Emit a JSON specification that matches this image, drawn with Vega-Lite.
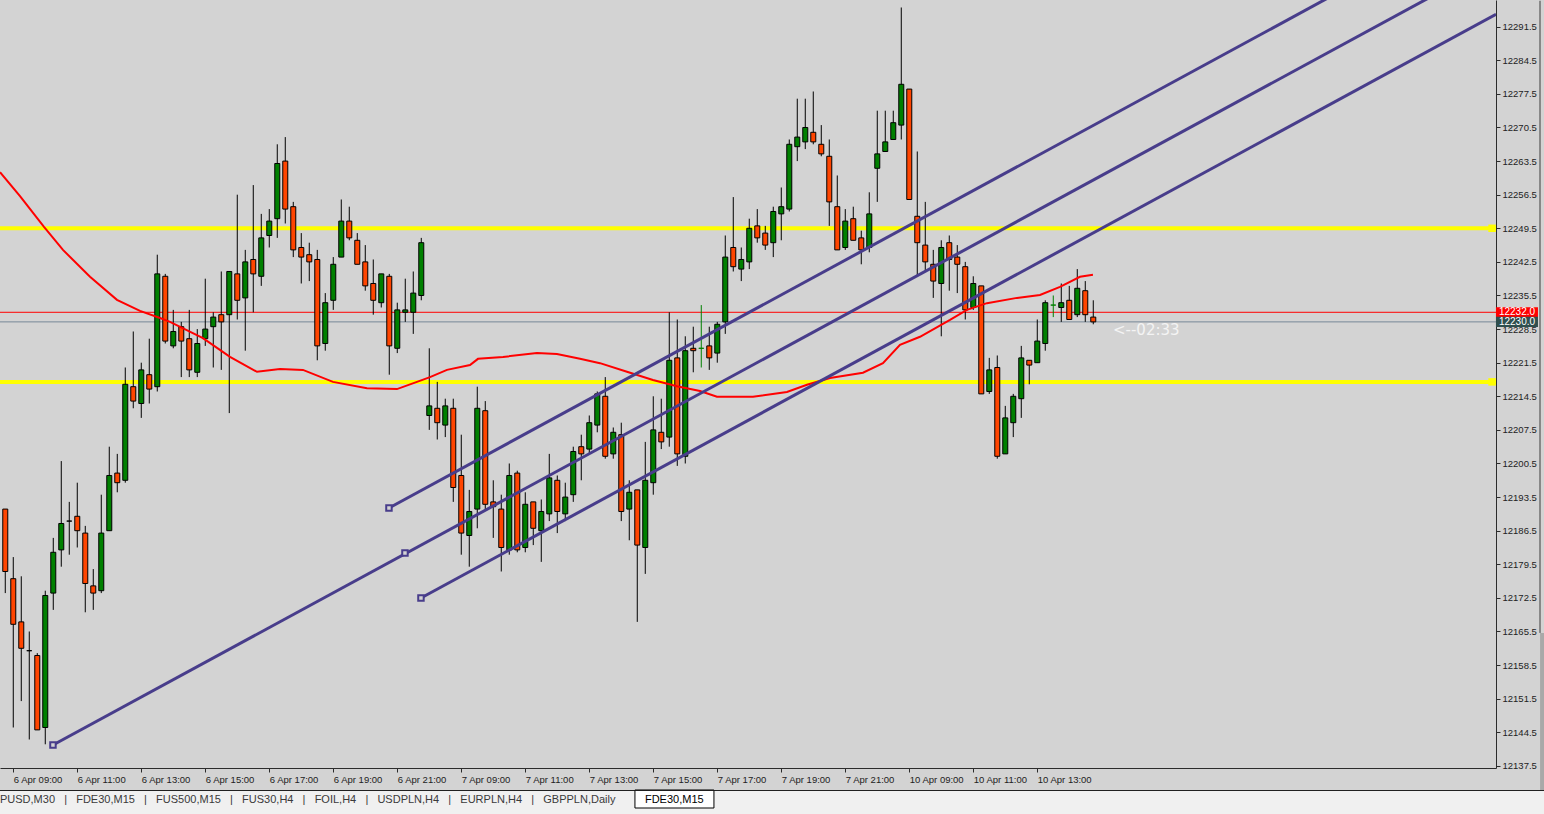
{
"$schema": "https://vega.github.io/schema/vega-lite/v6.json",
"background": "#d3d3d3",
"padding": 0,
"spacing": 22,
"bounds": "flush",
"config": {
  "view": {"stroke": null},
  "axis": {"grid": false, "labelOverlap": false, "labelFlush": false, "domainColor": "#2b2b2b", "tickColor": "#2b2b2b", "labelColor": "#222222", "labelFont": "Liberation Sans", "labelFontSize": 9.5, "tickSize": 4, "labelPadding": 2, "domainWidth": 1, "tickWidth": 1},
  "text": {"font": "Liberation Sans"}
},
"datasets": {
"candles": [
{"k":0,"o":12191.0,"h":12191.0,"l":12173.5,"c":12178.0,"d":"bear"},
{"k":1,"o":12176.5,"h":12181.0,"l":12145.5,"c":12167.0,"d":"bear"},
{"k":2,"o":12167.5,"h":12177.0,"l":12151.0,"c":12162.0,"d":"bear"},
{"k":3,"o":12161.5,"h":12165.5,"l":12143.0,"c":12161.5,"d":"doji"},
{"k":4,"o":12160.5,"h":12161.0,"l":12145.0,"c":12145.0,"d":"bear"},
{"k":5,"o":12145.5,"h":12174.0,"l":12142.0,"c":12173.0,"d":"bull"},
{"k":6,"o":12173.5,"h":12185.0,"l":12170.0,"c":12182.0,"d":"bull"},
{"k":7,"o":12182.5,"h":12201.0,"l":12179.0,"c":12188.0,"d":"bull"},
{"k":8,"o":12188.5,"h":12192.5,"l":12181.5,"c":12188.5,"d":"doji"},
{"k":9,"o":12189.5,"h":12196.5,"l":12183.0,"c":12186.5,"d":"bear"},
{"k":10,"o":12186.0,"h":12187.5,"l":12169.5,"c":12175.5,"d":"bear"},
{"k":11,"o":12175.0,"h":12178.5,"l":12170.0,"c":12173.5,"d":"bear"},
{"k":12,"o":12174.0,"h":12194.0,"l":12173.5,"c":12186.0,"d":"bull"},
{"k":13,"o":12186.5,"h":12204.0,"l":12186.5,"c":12198.0,"d":"bull"},
{"k":14,"o":12198.5,"h":12202.5,"l":12194.5,"c":12196.5,"d":"bear"},
{"k":15,"o":12197.0,"h":12220.5,"l":12196.5,"c":12217.0,"d":"bull"},
{"k":16,"o":12216.5,"h":12228.0,"l":12212.0,"c":12213.5,"d":"bear"},
{"k":17,"o":12213.0,"h":12221.5,"l":12210.0,"c":12220.0,"d":"bull"},
{"k":18,"o":12219.0,"h":12226.5,"l":12213.0,"c":12216.0,"d":"bear"},
{"k":19,"o":12216.5,"h":12244.0,"l":12215.5,"c":12240.0,"d":"bull"},
{"k":20,"o":12239.5,"h":12240.0,"l":12225.5,"c":12226.0,"d":"bear"},
{"k":21,"o":12225.0,"h":12232.5,"l":12224.5,"c":12228.0,"d":"bull"},
{"k":22,"o":12229.0,"h":12230.0,"l":12218.5,"c":12226.0,"d":"bear"},
{"k":23,"o":12226.5,"h":12232.5,"l":12218.5,"c":12220.0,"d":"bear"},
{"k":24,"o":12219.5,"h":12228.5,"l":12218.5,"c":12225.5,"d":"bull"},
{"k":25,"o":12226.5,"h":12239.0,"l":12225.0,"c":12228.5,"d":"bull"},
{"k":26,"o":12229.0,"h":12232.0,"l":12220.5,"c":12231.0,"d":"bull"},
{"k":27,"o":12231.5,"h":12240.5,"l":12220.0,"c":12230.0,"d":"bear"},
{"k":28,"o":12231.5,"h":12240.5,"l":12211.0,"c":12240.5,"d":"bull"},
{"k":29,"o":12240.0,"h":12256.5,"l":12230.5,"c":12234.5,"d":"bear"},
{"k":30,"o":12235.0,"h":12245.0,"l":12224.0,"c":12242.5,"d":"bull"},
{"k":31,"o":12243.0,"h":12258.5,"l":12232.0,"c":12240.0,"d":"bear"},
{"k":32,"o":12239.5,"h":12252.5,"l":12237.5,"c":12247.5,"d":"bull"},
{"k":33,"o":12248.0,"h":12253.5,"l":12245.5,"c":12251.0,"d":"bull"},
{"k":34,"o":12251.5,"h":12267.0,"l":12247.5,"c":12263.0,"d":"bull"},
{"k":35,"o":12263.5,"h":12268.5,"l":12250.5,"c":12253.5,"d":"bear"},
{"k":36,"o":12254.0,"h":12255.0,"l":12243.5,"c":12245.0,"d":"bear"},
{"k":37,"o":12245.5,"h":12248.5,"l":12238.0,"c":12243.5,"d":"bear"},
{"k":38,"o":12244.0,"h":12246.5,"l":12238.5,"c":12242.5,"d":"bear"},
{"k":39,"o":12243.0,"h":12245.0,"l":12222.0,"c":12225.0,"d":"bear"},
{"k":40,"o":12225.5,"h":12236.0,"l":12224.0,"c":12234.0,"d":"bull"},
{"k":41,"o":12234.5,"h":12243.5,"l":12232.5,"c":12242.0,"d":"bull"},
{"k":42,"o":12243.5,"h":12255.5,"l":12243.5,"c":12251.0,"d":"bull"},
{"k":43,"o":12251.0,"h":12254.0,"l":12247.0,"c":12247.5,"d":"bear"},
{"k":44,"o":12247.0,"h":12248.5,"l":12242.0,"c":12242.0,"d":"bear"},
{"k":45,"o":12242.5,"h":12246.0,"l":12236.5,"c":12237.5,"d":"bear"},
{"k":46,"o":12238.0,"h":12243.0,"l":12231.5,"c":12234.5,"d":"bear"},
{"k":47,"o":12234.0,"h":12240.0,"l":12233.0,"c":12240.0,"d":"bull"},
{"k":48,"o":12239.5,"h":12240.0,"l":12219.0,"c":12225.0,"d":"bear"},
{"k":49,"o":12224.5,"h":12234.0,"l":12223.5,"c":12232.5,"d":"bull"},
{"k":50,"o":12232.0,"h":12239.0,"l":12230.0,"c":12232.5,"d":"bull"},
{"k":51,"o":12232.0,"h":12240.5,"l":12227.5,"c":12236.0,"d":"bull"},
{"k":52,"o":12235.5,"h":12247.5,"l":12234.5,"c":12246.5,"d":"bull"},
{"k":53,"o":12210.5,"h":12224.5,"l":12207.5,"c":12212.5,"d":"bull"},
{"k":54,"o":12212.0,"h":12217.5,"l":12205.5,"c":12209.0,"d":"bear"},
{"k":55,"o":12208.5,"h":12214.0,"l":12206.0,"c":12212.5,"d":"bull"},
{"k":56,"o":12212.0,"h":12214.0,"l":12192.5,"c":12195.5,"d":"bear"},
{"k":57,"o":12198.0,"h":12206.5,"l":12181.5,"c":12186.0,"d":"bear"},
{"k":58,"o":12185.5,"h":12195.0,"l":12179.0,"c":12190.5,"d":"bull"},
{"k":59,"o":12191.0,"h":12216.5,"l":12187.0,"c":12212.0,"d":"bull"},
{"k":60,"o":12211.5,"h":12213.5,"l":12191.0,"c":12192.0,"d":"bear"},
{"k":61,"o":12192.5,"h":12197.0,"l":12185.0,"c":12191.5,"d":"bear"},
{"k":62,"o":12191.0,"h":12194.0,"l":12178.0,"c":12183.0,"d":"bear"},
{"k":63,"o":12182.5,"h":12200.5,"l":12181.5,"c":12198.0,"d":"bull"},
{"k":64,"o":12198.5,"h":12199.0,"l":12182.0,"c":12182.5,"d":"bear"},
{"k":65,"o":12183.0,"h":12194.5,"l":12182.0,"c":12192.0,"d":"bull"},
{"k":66,"o":12192.5,"h":12192.5,"l":12183.5,"c":12187.0,"d":"bear"},
{"k":67,"o":12186.5,"h":12193.0,"l":12180.0,"c":12190.5,"d":"bull"},
{"k":68,"o":12190.0,"h":12202.5,"l":12188.5,"c":12197.5,"d":"bull"},
{"k":69,"o":12197.0,"h":12198.0,"l":12186.0,"c":12190.5,"d":"bear"},
{"k":70,"o":12190.0,"h":12196.5,"l":12188.5,"c":12193.5,"d":"bull"},
{"k":71,"o":12194.0,"h":12204.0,"l":12192.5,"c":12203.0,"d":"bull"},
{"k":72,"o":12204.0,"h":12206.5,"l":12197.0,"c":12202.5,"d":"bear"},
{"k":73,"o":12203.5,"h":12210.5,"l":12202.5,"c":12209.0,"d":"bull"},
{"k":74,"o":12208.5,"h":12215.5,"l":12207.0,"c":12215.0,"d":"bull"},
{"k":75,"o":12214.5,"h":12218.5,"l":12201.5,"c":12202.0,"d":"bear"},
{"k":76,"o":12202.5,"h":12208.0,"l":12201.5,"c":12207.0,"d":"bull"},
{"k":77,"o":12206.5,"h":12209.0,"l":12188.5,"c":12190.5,"d":"bear"},
{"k":78,"o":12191.0,"h":12197.0,"l":12184.5,"c":12194.5,"d":"bull"},
{"k":79,"o":12195.0,"h":12195.0,"l":12167.5,"c":12183.5,"d":"bear"},
{"k":80,"o":12183.0,"h":12205.0,"l":12177.5,"c":12197.0,"d":"bull"},
{"k":81,"o":12196.5,"h":12214.5,"l":12194.0,"c":12207.5,"d":"bull"},
{"k":82,"o":12207.0,"h":12214.0,"l":12203.5,"c":12205.0,"d":"bear"},
{"k":83,"o":12206.0,"h":12232.0,"l":12204.0,"c":12222.0,"d":"bull"},
{"k":84,"o":12222.5,"h":12230.5,"l":12200.0,"c":12202.5,"d":"bear"},
{"k":85,"o":12202.0,"h":12227.0,"l":12200.5,"c":12224.0,"d":"bull"},
{"k":86,"o":12224.5,"h":12229.0,"l":12219.5,"c":12224.0,"d":"bear"},
{"k":87,"o":12224.5,"h":12233.5,"l":12220.5,"c":12224.5,"d":"dojiup"},
{"k":88,"o":12225.0,"h":12229.0,"l":12220.0,"c":12222.5,"d":"bear"},
{"k":89,"o":12223.5,"h":12230.0,"l":12221.5,"c":12229.5,"d":"bull"},
{"k":90,"o":12230.0,"h":12248.0,"l":12227.5,"c":12243.5,"d":"bull"},
{"k":91,"o":12245.5,"h":12256.0,"l":12240.5,"c":12241.5,"d":"bear"},
{"k":92,"o":12241.0,"h":12245.5,"l":12238.5,"c":12243.0,"d":"bull"},
{"k":93,"o":12242.5,"h":12251.5,"l":12241.0,"c":12249.5,"d":"bull"},
{"k":94,"o":12250.0,"h":12253.5,"l":12246.5,"c":12247.5,"d":"bear"},
{"k":95,"o":12248.5,"h":12250.0,"l":12245.0,"c":12246.0,"d":"bear"},
{"k":96,"o":12246.5,"h":12254.0,"l":12243.5,"c":12253.0,"d":"bull"},
{"k":97,"o":12252.5,"h":12258.0,"l":12247.0,"c":12254.0,"d":"bull"},
{"k":98,"o":12253.5,"h":12268.0,"l":12253.0,"c":12267.0,"d":"bull"},
{"k":99,"o":12266.5,"h":12276.5,"l":12263.5,"c":12268.5,"d":"bull"},
{"k":100,"o":12267.5,"h":12276.5,"l":12266.0,"c":12270.5,"d":"bull"},
{"k":101,"o":12269.5,"h":12278.0,"l":12267.0,"c":12267.5,"d":"bear"},
{"k":102,"o":12267.0,"h":12271.0,"l":12264.5,"c":12265.0,"d":"bear"},
{"k":103,"o":12264.5,"h":12268.0,"l":12250.0,"c":12255.0,"d":"bear"},
{"k":104,"o":12254.0,"h":12260.5,"l":12245.0,"c":12245.0,"d":"bear"},
{"k":105,"o":12245.5,"h":12253.5,"l":12245.0,"c":12251.0,"d":"bull"},
{"k":106,"o":12251.5,"h":12254.0,"l":12247.0,"c":12247.0,"d":"bear"},
{"k":107,"o":12247.5,"h":12249.0,"l":12242.0,"c":12245.0,"d":"bear"},
{"k":108,"o":12245.5,"h":12257.0,"l":12244.5,"c":12252.5,"d":"bull"},
{"k":109,"o":12262.0,"h":12274.0,"l":12255.0,"c":12265.0,"d":"bull"},
{"k":110,"o":12265.5,"h":12274.0,"l":12265.5,"c":12267.5,"d":"bull"},
{"k":111,"o":12268.0,"h":12274.0,"l":12268.0,"c":12271.5,"d":"bull"},
{"k":112,"o":12271.0,"h":12295.5,"l":12268.0,"c":12279.5,"d":"bull"},
{"k":113,"o":12278.5,"h":12278.5,"l":12255.5,"c":12255.5,"d":"bear"},
{"k":114,"o":12252.0,"h":12265.5,"l":12239.5,"c":12246.5,"d":"bear"},
{"k":115,"o":12246.0,"h":12255.0,"l":12240.5,"c":12242.5,"d":"bear"},
{"k":116,"o":12242.0,"h":12245.0,"l":12235.0,"c":12238.5,"d":"bear"},
{"k":117,"o":12238.0,"h":12247.0,"l":12227.0,"c":12245.5,"d":"bull"},
{"k":118,"o":12246.5,"h":12248.0,"l":12236.5,"c":12243.0,"d":"bear"},
{"k":119,"o":12243.5,"h":12246.0,"l":12236.0,"c":12242.0,"d":"bear"},
{"k":120,"o":12241.5,"h":12242.5,"l":12230.5,"c":12232.5,"d":"bear"},
{"k":121,"o":12233.0,"h":12239.5,"l":12232.5,"c":12238.0,"d":"bull"},
{"k":122,"o":12237.5,"h":12237.5,"l":12215.0,"c":12215.0,"d":"bear"},
{"k":123,"o":12215.5,"h":12222.5,"l":12215.0,"c":12220.0,"d":"bull"},
{"k":124,"o":12220.5,"h":12223.0,"l":12201.5,"c":12202.0,"d":"bear"},
{"k":125,"o":12202.5,"h":12212.5,"l":12202.5,"c":12210.0,"d":"bull"},
{"k":126,"o":12209.0,"h":12215.0,"l":12206.0,"c":12214.5,"d":"bull"},
{"k":127,"o":12214.0,"h":12225.0,"l":12210.0,"c":12222.5,"d":"bull"},
{"k":128,"o":12222.0,"h":12222.0,"l":12217.0,"c":12221.0,"d":"bear"},
{"k":129,"o":12221.5,"h":12230.5,"l":12221.5,"c":12226.0,"d":"bull"},
{"k":130,"o":12225.5,"h":12234.5,"l":12224.0,"c":12234.0,"d":"bull"},
{"k":131,"o":12233.5,"h":12235.5,"l":12231.0,"c":12233.5,"d":"dojiup"},
{"k":132,"o":12233.0,"h":12238.0,"l":12230.0,"c":12234.0,"d":"bull"},
{"k":133,"o":12234.5,"h":12237.5,"l":12230.5,"c":12230.5,"d":"bear"},
{"k":134,"o":12231.5,"h":12241.0,"l":12231.0,"c":12237.0,"d":"bull"},
{"k":135,"o":12236.5,"h":12238.5,"l":12230.0,"c":12231.5,"d":"bear"},
{"k":136,"o":12231.0,"h":12234.5,"l":12229.5,"c":12230.0,"d":"bear"}
],
"ma": [
{"k":-0.66,"v":12261.2},{"k":1.84,"v":12256.2},{"k":4.84,"v":12249.8},{"k":7.21,"v":12245.0},{"k":10.59,"v":12239.4},{"k":13.96,"v":12234.6},{"k":16.84,"v":12232.3},{"k":19.34,"v":12230.8},{"k":20.59,"v":12230.0},{"k":24.71,"v":12226.6},{"k":28.09,"v":12222.7},{"k":31.46,"v":12219.6},{"k":34.34,"v":12220.2},{"k":37.21,"v":12220.0},{"k":40.96,"v":12217.5},{"k":45.21,"v":12216.2},{"k":48.96,"v":12216.0},{"k":51.46,"v":12217.5},{"k":53.09,"v":12218.5},{"k":55.21,"v":12220.0},{"k":58.09,"v":12221.0},{"k":59.09,"v":12222.3},{"k":62.21,"v":12222.7},{"k":66.46,"v":12223.5},{"k":68.96,"v":12223.3},{"k":71.84,"v":12222.3},{"k":74.34,"v":12221.4},{"k":77.71,"v":12219.6},{"k":80.96,"v":12217.9},{"k":83.96,"v":12216.6},{"k":86.84,"v":12215.6},{"k":88.96,"v":12214.4},{"k":93.46,"v":12214.4},{"k":97.71,"v":12215.4},{"k":100.21,"v":12216.9},{"k":103.09,"v":12218.3},{"k":107.21,"v":12219.4},{"k":109.71,"v":12221.4},{"k":111.84,"v":12225.2},{"k":114.34,"v":12226.9},{"k":118.09,"v":12230.4},{"k":120.21,"v":12232.5},{"k":122.71,"v":12233.9},{"k":126.46,"v":12235.0},{"k":129.34,"v":12235.6},{"k":131.84,"v":12237.3},{"k":134.34,"v":12239.4},{"k":135.96,"v":12239.8}
],
"lines": [
{"id":"a","k":47.96,"v":12191.23},{"id":"a","k":186.34,"v":12316.5},
{"id":"b","k":5.96,"v":12141.85},{"id":"b","k":186.34,"v":12305.1},
{"id":"c","k":51.96,"v":12172.48},{"id":"c","k":186.34,"v":12294.1}
],
"handles": [
{"k":5.96,"v":12141.85},{"k":47.96,"v":12191.23},{"k":49.96,"v":12181.85},{"k":51.96,"v":12172.48}
],
"levels": [{"v":12249.5},{"v":12217.5}],
"quotes": [{"kind":"ask","v":12232.0},{"kind":"bid","v":12230.0}],
"edge": [{"part":"splitter","k":191.84,"top":12296.9,"bottom":12165.2},{"part":"scroll","k":192.1,"top":12165.2,"bottom":12132.5}],
"tabs": [
{"order":0,"label":"PUSD,M30\u00a0\u00a0\u00a0|\u00a0\u00a0\u00a0FDE30,M15\u00a0\u00a0\u00a0|\u00a0\u00a0\u00a0FUS500,M15\u00a0\u00a0\u00a0|\u00a0\u00a0\u00a0FUS30,H4\u00a0\u00a0\u00a0|\u00a0\u00a0\u00a0FOIL,H4\u00a0\u00a0\u00a0|\u00a0\u00a0\u00a0USDPLN,H4\u00a0\u00a0\u00a0|\u00a0\u00a0\u00a0EURPLN,H4\u00a0\u00a0\u00a0|\u00a0\u00a0\u00a0GBPPLN,Daily","active":false},
{"order":1,"label":"FDE30,M15","active":true}
]
},
"vconcat": [
{
"width": 1496,
"height": 768,
"layer": [
{
"data": {"name": "candles"},
"mark": {"type": "rule", "strokeWidth": 1, "opacity": 0},
"encoding": {
"x": {"field": "k", "type": "quantitative", "scale": {"domain": [-0.66, 186.34], "nice": false, "zero": false, "padding": 0},
"axis": {"title": null, "orient": "bottom", "tickCount": 60, "values": [1,9,17,25,33,41,49,57,65,73,81,89,97,105,113,121,129], "labelAlign": "left", "labelBaseline": "top", "labelFlush": false, "labelOverlap": false,
"labelExpr": "['6 Apr 09:00','6 Apr 11:00','6 Apr 13:00','6 Apr 15:00','6 Apr 17:00','6 Apr 19:00','6 Apr 21:00','7 Apr 09:00','7 Apr 11:00','7 Apr 13:00','7 Apr 15:00','7 Apr 17:00','7 Apr 19:00','7 Apr 21:00','10 Apr 09:00','10 Apr 11:00','10 Apr 13:00'][(datum.value-1)/8]"}},
"y": {"field": "l", "type": "quantitative", "scale": {"domain": [12137.06, 12297.06], "nice": false, "zero": false},
"axis": {"title": null, "orient": "right", "tickCount": 60, "values": [12137.5,12144.5,12151.5,12158.5,12165.5,12172.5,12179.5,12186.5,12193.5,12200.5,12207.5,12214.5,12221.5,12228.5,12235.5,12242.5,12249.5,12256.5,12263.5,12270.5,12277.5,12284.5,12291.5], "format": ".1f", "labelAlign": "left", "labelBaseline": "middle", "labelFlush": false, "labelOverlap": false}},
"y2": {"field": "h"}
}
},
{
"data": {"name": "levels"},
"mark": {"type": "rule", "color": "#ffff00", "strokeWidth": 4, "clip": true},
"encoding": {
"y": {"field": "v", "type": "quantitative", "scale": {"domain": [12137.06, 12297.06], "nice": false, "zero": false}}
}
},
{
"data": {"name": "levels"},
"mark": {"type": "point", "shape": "square", "filled": true, "color": "#ffff00", "size": 56, "opacity": 1},
"encoding": {
"x": {"datum": 185.85, "type": "quantitative", "scale": {"domain": [-0.66, 186.34], "nice": false, "zero": false, "padding": 0}},
"y": {"field": "v", "type": "quantitative", "scale": {"domain": [12137.06, 12297.06], "nice": false, "zero": false}}
}
},
{
"data": {"name": "quotes"},
"mark": {"type": "rule", "strokeWidth": 1, "clip": true},
"encoding": {
"y": {"field": "v", "type": "quantitative", "scale": {"domain": [12137.06, 12297.06], "nice": false, "zero": false}},
"stroke": {"condition": {"test": "datum.kind === 'ask'", "value": "#ff0000"}, "value": "#778899"}
}
},
{
"data": {"name": "candles"},
"mark": {"type": "rule", "strokeWidth": 1},
"encoding": {
"x": {"field": "k", "type": "quantitative", "scale": {"domain": [-0.66, 186.34], "nice": false, "zero": false, "padding": 0}},
"y": {"field": "l", "type": "quantitative", "scale": {"domain": [12137.06, 12297.06], "nice": false, "zero": false}},
"y2": {"field": "h"},
"stroke": {"condition": {"test": "datum.d === 'dojiup'", "value": "#008000"}, "value": "#000000"}
}
},
{
"data": {"name": "candles"},
"mark": {"type": "bar", "width": 5, "strokeWidth": 1},
"encoding": {
"x": {"field": "k", "type": "quantitative", "scale": {"domain": [-0.66, 186.34], "nice": false, "zero": false, "padding": 0}},
"y": {"field": "o", "type": "quantitative", "scale": {"domain": [12137.06, 12297.06], "nice": false, "zero": false}},
"y2": {"field": "c"},
"fill": {"field": "d", "type": "nominal", "scale": {"domain": ["bull","bear","doji","dojiup"], "range": ["#008000","#ff4500","#000000","#008000"]}, "legend": null},
"stroke": {"condition": {"test": "datum.d === 'dojiup'", "value": "#008000"}, "value": "#000000"}
}
},
{
"data": {"name": "ma"},
"mark": {"type": "line", "color": "#ff0000", "strokeWidth": 2, "clip": true},
"encoding": {
"x": {"field": "k", "type": "quantitative", "scale": {"domain": [-0.66, 186.34], "nice": false, "zero": false, "padding": 0}},
"y": {"field": "v", "type": "quantitative", "scale": {"domain": [12137.06, 12297.06], "nice": false, "zero": false}}
}
},
{
"data": {"name": "lines"},
"mark": {"type": "line", "color": "#483d8b", "strokeWidth": 3, "clip": true},
"encoding": {
"x": {"field": "k", "type": "quantitative", "scale": {"domain": [-0.66, 186.34], "nice": false, "zero": false, "padding": 0}},
"y": {"field": "v", "type": "quantitative", "scale": {"domain": [12137.06, 12297.06], "nice": false, "zero": false}},
"detail": {"field": "id", "type": "nominal"}
}
},
{
"data": {"name": "handles"},
"mark": {"type": "point", "shape": "square", "filled": true, "fill": "#d3d3d3", "stroke": "#483d8b", "strokeWidth": 2, "size": 30, "opacity": 1},
"encoding": {
"x": {"field": "k", "type": "quantitative", "scale": {"domain": [-0.66, 186.34], "nice": false, "zero": false, "padding": 0}},
"y": {"field": "v", "type": "quantitative", "scale": {"domain": [12137.06, 12297.06], "nice": false, "zero": false}}
}
},
{
"data": {"name": "quotes"},
"mark": {"type": "point", "shape": "M-1,-0.24H1V0.24H-1Z", "size": 1764, "filled": true, "opacity": 1, "strokeWidth": 0},
"encoding": {
"x": {"datum": 188.96, "type": "quantitative", "scale": {"domain": [-0.66, 186.34], "nice": false, "zero": false, "padding": 0}},
"y": {"field": "v", "type": "quantitative", "scale": {"domain": [12137.06, 12297.06], "nice": false, "zero": false}},
"fill": {"condition": {"test": "datum.kind === 'ask'", "value": "#ff0000"}, "value": "#2f4f4f"}
}
},
{
"data": {"name": "quotes"},
"mark": {"type": "text", "color": "#ffffff", "font": "Liberation Sans", "fontSize": 10, "align": "center", "baseline": "middle"},
"encoding": {
"x": {"datum": 188.96, "type": "quantitative", "scale": {"domain": [-0.66, 186.34], "nice": false, "zero": false, "padding": 0}},
"y": {"field": "v", "type": "quantitative", "scale": {"domain": [12137.06, 12297.06], "nice": false, "zero": false}},
"text": {"field": "v", "type": "quantitative", "format": ".1f"}
}
},
{
"data": {"name": "edge"},
"mark": {"type": "rule"},
"encoding": {
"x": {"field": "k", "type": "quantitative", "scale": {"domain": [-0.66, 186.34], "nice": false, "zero": false, "padding": 0}},
"y": {"field": "top", "type": "quantitative", "scale": {"domain": [12137.06, 12297.06], "nice": false, "zero": false}},
"y2": {"field": "bottom"},
"stroke": {"condition": {"test": "datum.part === 'splitter'", "value": "#3c3c3c"}, "value": "#a9a9a9"},
"strokeWidth": {"condition": {"test": "datum.part === 'splitter'", "value": 1}, "value": 4}
}
},
{
"data": {"values": [{"timer": "<--02:33"}]},
"mark": {"type": "text", "color": "#f4f4f4", "font": "DejaVu Sans", "fontSize": 15, "align": "left", "baseline": "middle"},
"encoding": {
"x": {"datum": 138.46, "type": "quantitative", "scale": {"domain": [-0.66, 186.34], "nice": false, "zero": false, "padding": 0}},
"y": {"datum": 12228.3, "type": "quantitative", "scale": {"domain": [12137.06, 12297.06], "nice": false, "zero": false}},
"text": {"field": "timer"}
}
}
]
},
{
"width": 1544,
"height": 24,
"view": {"fill": "#f0f0f0", "stroke": null},
"data": {"name": "tabs"},
"layer": [
{
"transform": [{"filter": "datum.active"}],
"mark": {"type": "point", "shape": "M-0.253,-0.304H1.747V0.152H-0.253Z", "size": 6241, "filled": true, "fill": "#ffffff", "stroke": "#000000", "strokeWidth": 1, "opacity": 1},
"encoding": {
"x": {"field": "order", "type": "quantitative", "scale": {"domain": [0, 2.394], "nice": false, "zero": false}, "axis": null}
}
},
{
"transform": [{"filter": "datum.active"}],
"mark": {"type": "rule", "color": "#1a1a1a", "strokeWidth": 1, "clip": true},
"encoding": {
"y": {"datum": 0.98, "type": "quantitative", "scale": {"domain": [0, 1]}, "axis": null}
}
},
{
"mark": {"type": "text", "font": "Liberation Sans", "fontSize": 11, "align": "left", "baseline": "middle", "dy": -2},
"encoding": {
"x": {"field": "order", "type": "quantitative", "scale": {"domain": [0, 2.394], "nice": false, "zero": false}, "axis": null},
"text": {"field": "label"},
"color": {"condition": {"test": "datum.active", "value": "#000000"}, "value": "#3a3a3a"}
}
}
]
}
]
}
